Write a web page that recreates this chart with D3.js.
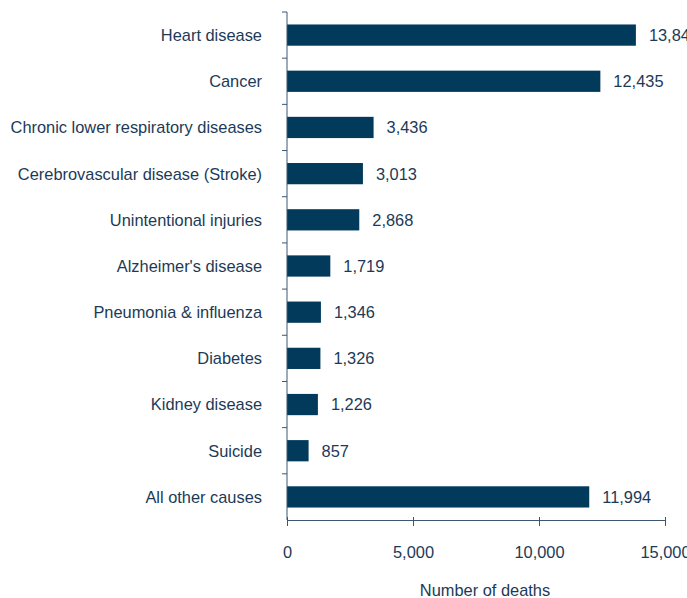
<!DOCTYPE html>
<html>
<head>
<meta charset="utf-8">
<script src="https://cdn.jsdelivr.net/npm/d3@7"></script>
<style>
  body { margin: 0; background: #fff; }
  svg { display: block; font-family: "Liberation Sans", Arial, sans-serif; }
</style>
</head>
<body>
<div id="chart"></div>
<script>
  // Data
  const causes = [
    'Heart disease', 'Cancer', 'Chronic lower respiratory diseases',
    'Cerebrovascular disease (Stroke)', 'Unintentional injuries',
    "Alzheimer's disease", 'Pneumonia & influenza', 'Diabetes',
    'Kidney disease', 'Suicide', 'All other causes'
  ];
  const deaths = [13845, 12435, 3436, 3013, 2868, 1719, 1346, 1326, 1226, 857, 11994];
  const xTicks = [0, 5000, 10000, 15000];

  const width = 687, height = 598;
  const margin = { top: 12, right: 22, bottom: 78, left: 287 };
  const textColor = '#1c3a58';
  const barColor = '#023a5c';
  const axisColor = '#3c5670';
  const fontSize = 16.4;
  const fmt = d3.format(',');

  const svg = d3.select('#chart').append('svg')
    .attr('width', width)
    .attr('height', height);

  const x = d3.scaleLinear()
    .domain([0, 15000])
    .range([margin.left, width - margin.right]);

  const y = d3.scaleBand()
    .domain(causes)
    .range([margin.top, height - margin.bottom])
    .paddingInner(0.54)
    .paddingOuter(0.27);

  const data = causes.map((c, i) => ({ cause: c, value: deaths[i] }));

  // Bars
  svg.append('g')
    .selectAll('rect')
    .data(data)
    .join('rect')
    .attr('x', x(0))
    .attr('y', d => y(d.cause))
    .attr('width', d => x(d.value) - x(0))
    .attr('height', y.bandwidth())
    .attr('fill', barColor);

  // Value labels
  svg.append('g')
    .selectAll('text')
    .data(data)
    .join('text')
    .attr('x', d => x(d.value) + 13)
    .attr('y', d => y(d.cause) + y.bandwidth() / 2)
    .attr('dy', '0.36em')
    .attr('font-size', fontSize)
    .attr('fill', textColor)
    .text(d => fmt(d.value));

  // Y axis: line with ticks at band boundaries
  const yAxis = svg.append('g');
  const bottomY = height - margin.bottom;
  yAxis.append('line')
    .attr('x1', x(0)).attr('x2', x(0))
    .attr('y1', margin.top).attr('y2', bottomY)
    .attr('stroke', axisColor);
  const step = y.step();
  const boundaries = d3.range(causes.length).map(i => margin.top + i * step);
  yAxis.selectAll('.tick')
    .data(boundaries)
    .join('line')
    .attr('x1', x(0) - 5).attr('x2', x(0))
    .attr('y1', d => d).attr('y2', d => d)
    .attr('stroke', axisColor);

  // Category labels
  svg.append('g')
    .selectAll('text')
    .data(causes)
    .join('text')
    .attr('x', x(0) - 25)
    .attr('y', d => y(d) + y.bandwidth() / 2)
    .attr('dy', '0.36em')
    .attr('text-anchor', 'end')
    .attr('font-size', fontSize)
    .attr('fill', textColor)
    .text(d => d);

  // X axis
  const xAxis = svg.append('g')
    .attr('transform', `translate(0,${bottomY})`)
    .call(d3.axisBottom(x).tickValues(xTicks).tickFormat(fmt).tickSizeInner(6).tickSizeOuter(0).tickPadding(20));
  xAxis.select('.domain').attr('stroke', axisColor);
  xAxis.selectAll('.tick line').attr('stroke', axisColor).attr('y1', -3).attr('y2', 6);
  xAxis.selectAll('.tick text')
    .attr('font-size', fontSize)
    .attr('font-family', '"Liberation Sans", Arial, sans-serif')
    .attr('fill', textColor);

  // X axis title
  svg.append('text')
    .attr('x', 485)
    .attr('y', 596)
    .attr('text-anchor', 'middle')
    .attr('font-size', fontSize)
    .attr('fill', textColor)
    .text('Number of deaths');
</script>
</body>
</html>
